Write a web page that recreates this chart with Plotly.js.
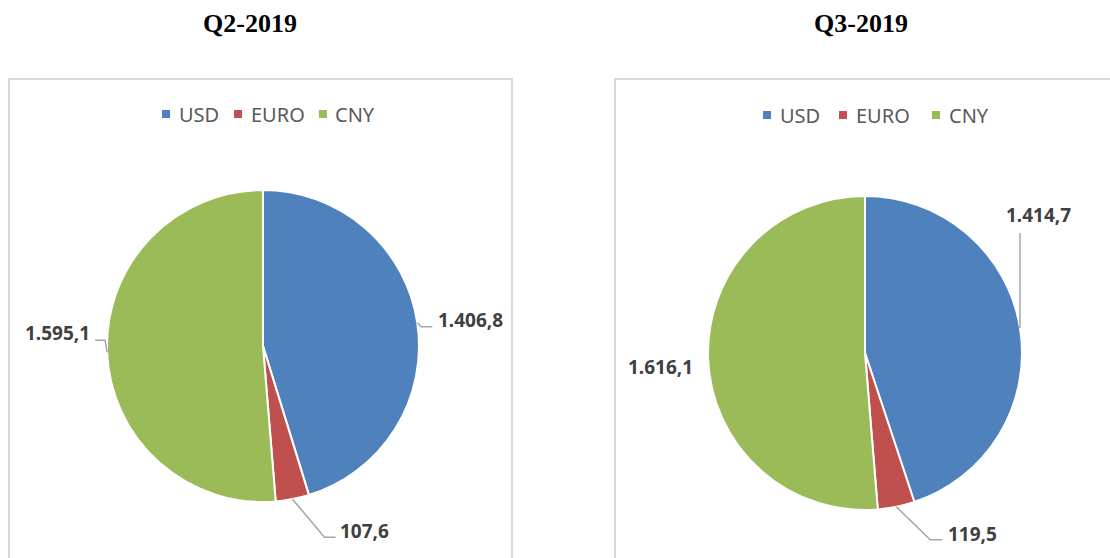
<!DOCTYPE html>
<html>
<head>
<meta charset="utf-8">
<script src="https://cdn.plot.ly/plotly-3.0.1.min.js"></script>
<style>html,body{margin:0;padding:0;background:#fff;}#chart{width:1110px;height:558px;}</style>
</head>
<body>
<div id="chart"></div>
<script>
// ---- data ----
const categories = ['USD', 'EURO', 'CNY'];
const q2Values = [1406.8, 107.6, 1595.1];
const q3Values = [1414.7, 119.5, 1616.1];
const panelTitles = ['Q2-2019', 'Q3-2019'];
const sliceColors = ['#4F81BD', '#C0504D', '#9BBB59'];

// ---- layout config (pixels) ----
const W = 1110, H = 558;
const pies = [
  {cx: 263, cy: 346, r: 156, values: q2Values, title: panelTitles[0], titleX: 250, box: [9, 512],
   legendY: 114, legendSq: [166, 238, 323], legendTx: [177, 249, 333],
   labels: [
     {line: [[4, 4], [15, 4]], text: [19, -3], xanchor: 'left'},
     {line: [[32, 38], [43, 38]], text: [46, 32], xanchor: 'left'},
     {line: [[-2, -12], [-12, -12]], text: [-15, -19], xanchor: 'right'}
   ]},
  {cx: 865, cy: 353, r: 157, values: q3Values, title: panelTitles[1], titleX: 861, box: [615, 1140],
   legendY: 115, legendSq: [767, 843, 936], legendTx: [778, 854, 947],
   labels: [
     {line: [[0, -95]], text: [19, -113], xanchor: 'center'},
     {line: [[34, 33], [46, 33]], text: [50, 27], xanchor: 'left'},
     {line: null, text: [-13, 8], xanchor: 'right'}
   ]}
];

function fmt(v) {
  const parts = v.toFixed(1).split('.');
  const intPart = parts[0].replace(/\B(?=(\d{3})+(?!\d))/g, '.');
  return intPart + ',' + parts[1];
}
const px = x => x / W;
const py = y => 1 - y / H;

const traces = [];
const shapes = [];
const annotations = [];
const layout = {
  width: W, height: H,
  margin: {l: 0, r: 0, t: 0, b: 0},
  paper_bgcolor: '#fff',
  showlegend: false
};

pies.forEach((p, i) => {
  traces.push({
    type: 'pie',
    labels: categories,
    values: p.values,
    sort: false,
    direction: 'clockwise',
    rotation: 0,
    textinfo: 'none',
    hoverinfo: 'label+value',
    marker: {colors: sliceColors, line: {color: '#ffffff', width: 2}},
    domain: {x: [px(p.cx - p.r), px(p.cx + p.r)], y: [py(p.cy + p.r), py(p.cy - p.r)]}
  });
  // panel border
  shapes.push({type: 'rect', xref: 'paper', yref: 'paper',
    x0: px(p.box[0]), x1: px(p.box[1]), y0: py(600), y1: py(79),
    line: {color: '#d9d9d9', width: 2}, fillcolor: 'rgba(0,0,0,0)', layer: 'below'});
  // title
  annotations.push({text: p.title, xref: 'paper', yref: 'paper', x: px(p.titleX), y: py(23),
    xanchor: 'center', yanchor: 'middle', showarrow: false,
    font: {family: 'Liberation Serif', size: 26, color: '#000', weight: 'bold'}});
  // legend
  categories.forEach((c, k) => {
    const sx = p.legendSq[k];
    shapes.push({type: 'rect', xref: 'paper', yref: 'paper',
      x0: px(sx - 4), x1: px(sx + 4), y0: py(p.legendY + 4), y1: py(p.legendY - 4),
      line: {width: 0}, fillcolor: sliceColors[k]});
    annotations.push({text: c, xref: 'paper', yref: 'paper', x: px(p.legendTx[k]), y: py(p.legendY),
      xanchor: 'left', yanchor: 'middle', showarrow: false,
      font: {family: 'Noto Sans', size: 20, color: '#595959'}});
  });
  // data labels
  const total = p.values.reduce((a, b) => a + b, 0);
  let cum = 0;
  p.values.forEach((v, k) => {
    const theta = 2 * Math.PI * (cum + v / 2) / total;
    cum += v;
    const ex = p.cx + p.r * Math.sin(theta);
    const ey = p.cy - p.r * Math.cos(theta);
    const cfg = p.labels[k];
    if (cfg.line) {
      let path = 'M ' + px(ex) + ' ' + py(ey);
      cfg.line.forEach(pt => { path += ' L ' + px(ex + pt[0]) + ' ' + py(ey + pt[1]); });
      shapes.push({type: 'path', xref: 'paper', yref: 'paper', path: path,
        line: {color: '#a6a6a6', width: 1.5}});
    }
    annotations.push({text: fmt(v), xref: 'paper', yref: 'paper',
      x: px(ex + cfg.text[0]), y: py(ey + cfg.text[1]),
      xanchor: cfg.xanchor, yanchor: 'middle', showarrow: false,
      font: {family: 'Noto Sans', size: 19, color: '#404040', weight: 'bold'}});
  });
});
layout.shapes = shapes;
layout.annotations = annotations;

Plotly.newPlot('chart', traces, layout, {displayModeBar: false, staticPlot: true});
</script>
</body>
</html>
